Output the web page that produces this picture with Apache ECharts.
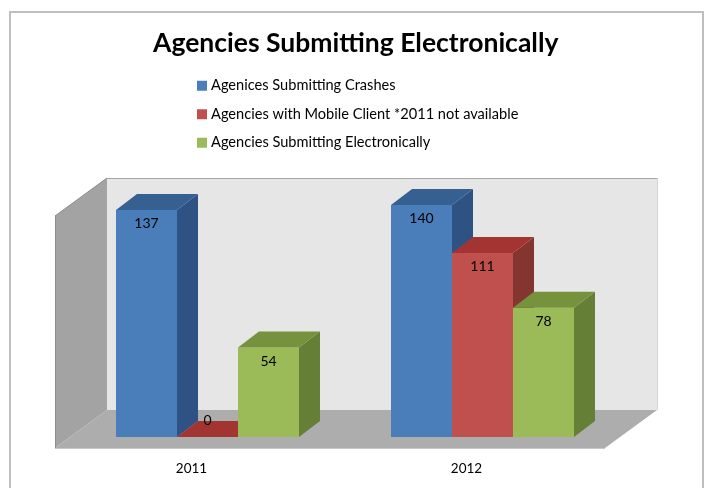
<!DOCTYPE html>
<html>
<head>
<meta charset="utf-8">
<style>html,body{margin:0;padding:0;background:#fff}#chart{width:705px;height:488px}</style>
<script src="https://cdn.jsdelivr.net/npm/echarts@6/dist/echarts.min.js"></script>
</head>
<body>
<div id="chart"></div>
<script>
const titleText = 'Agencies Submitting Electronically';
const years = ['2011', '2012'];
const crashNames = 'Agenices Submitting Crashes';
const mobileName = 'Agencies with Mobile Client *2011 not available';
const electronicName = 'Agencies Submitting Electronically';
const crashes = [137, 140];
const mobile = [0, 111];
const electronic = [54, 78];

// Projection of the depth axis: bar depth and the extra floor margin around the bars
const BAR_DX = 21, BAR_DY = 16;
const FLOOR_DX = 15, FLOOR_DY = 11;
const BACK_DX = 52, BACK_DY = 38;
const BAR_COUNT = 3;

const palette = [
  { front: '#4a7ebb', top: '#376092', side: '#2f5284' },
  { front: '#c0504d', top: '#a23531', side: '#853530' },
  { front: '#9bbb59', top: '#76923c', side: '#667f37' }
];

const poly = (points, fill) => ({ type: 'polygon', shape: { points }, style: { fill }, silent: true });

// Back wall, side wall and floor, worked out from the plot rectangle
function renderRoom(params, api) {
  const r = params.coordSys;
  const left = r.x - FLOOR_DX, right = r.x + r.width - FLOOR_DX;
  const bottom = r.y + r.height + FLOOR_DY, top = r.y + FLOOR_DY;
  const bx = BACK_DX, by = BACK_DY;
  return {
    type: 'group',
    children: [
      poly([[left + bx, top - by], [right + bx, top - by], [right + bx, bottom - by], [left + bx, bottom - by]], '#e6e6e6'),
      { type: 'line', shape: { x1: left + bx, y1: top - by + 0.5, x2: right + bx, y2: top - by + 0.5 }, style: { stroke: '#a6a6a6', lineWidth: 1 }, silent: true },
      { type: 'line', shape: { x1: right + bx + 0.5, y1: top - by, x2: right + bx + 0.5, y2: bottom - by }, style: { stroke: '#d4d4d4', lineWidth: 1 }, silent: true },
      poly([[left, top], [left + bx, top - by], [left + bx, bottom - by], [left, bottom]], '#a3a3a3'),
      poly([[left, bottom], [right, bottom], [right + bx, bottom - by], [left + bx, bottom - by]], '#adadad'),
      { type: 'line', shape: { x1: left, y1: top, x2: left + bx, y2: top - by }, style: { stroke: '#8c8c8c', lineWidth: 1 }, silent: true },
      { type: 'line', shape: { x1: left + 0.5, y1: top, x2: left + 0.5, y2: bottom }, style: { stroke: '#8c8c8c', lineWidth: 1 }, silent: true },
      { type: 'line', shape: { x1: left, y1: bottom + 0.5, x2: right, y2: bottom + 0.5 }, style: { stroke: '#c8c8c8', lineWidth: 1 }, silent: true }
    ]
  };
}

// One extruded bar of a cluster: front, top and right faces plus the value label
function barRenderer(seriesIndex) {
  const c = palette[seriesIndex];
  return function (params, api) {
    const value = api.value(1);
    const [cx, topY] = api.coord([api.value(0), value]);
    const [, baseY] = api.coord([api.value(0), 0]);
    const band = api.size([1, 0])[0];
    const w = band * 0.2218;
    const x0 = cx + (seriesIndex - BAR_COUNT / 2) * w;
    const x1 = x0 + w;
    const children = [];
    if (value > 0) {
      children.push(poly([[x1, topY], [x1 + BAR_DX, topY - BAR_DY], [x1 + BAR_DX, baseY - BAR_DY], [x1, baseY]], c.side));
      children.push(poly([[x0, topY], [x1, topY], [x1, baseY], [x0, baseY]], c.front));
    }
    children.push(poly([[x0, topY], [x1, topY], [x1 + BAR_DX, topY - BAR_DY], [x0 + BAR_DX, topY - BAR_DY]], c.top));
    children.push({
      type: 'text',
      silent: true,
      style: {
        x: (x0 + x1) / 2,
        y: value > 0 ? topY + 13.5 : topY - 17,
        text: String(value),
        fill: '#000',
        font: '14px Lato',
        align: 'center',
        verticalAlign: 'middle'
      }
    });
    return { type: 'group', children };
  };
}

const barSeries = [[crashNames, crashes], [mobileName, mobile], [electronicName, electronic]].map(([name, values], i) => ({
  type: 'custom',
  name,
  coordinateSystem: 'cartesian2d',
  itemStyle: { color: palette[i].front },
  renderItem: barRenderer(i),
  encode: { x: 0, y: 1 },
  data: years.map((y, k) => [k, values[k]]),
  z: 3 + i
}));

const chart = echarts.init(document.getElementById('chart'), null, { renderer: 'canvas' });
chart.setOption({
  animation: false,
  backgroundColor: '#fff',
  title: {
    text: titleText,
    left: 148,
    top: 25,
    textStyle: { fontFamily: 'Lato', fontSize: 26.5, fontWeight: 'bold', color: '#000' }
  },
  legend: {
    orient: 'vertical',
    left: 192,
    top: 72.5,
    itemWidth: 10,
    itemHeight: 10,
    itemGap: 12,
    icon: 'rect',
    selectedMode: false,
    textStyle: { fontFamily: 'Lato', fontSize: 14.6, color: '#000', height: 16.5, lineHeight: 16.5, padding: [0, 0, 0, -1] },
    data: [crashNames, mobileName, electronicName]
  },
  grid: { left: 70, top: 205, width: 550, height: 232 },
  xAxis: {
    type: 'category',
    data: years,
    axisLine: { show: false },
    axisTick: { show: false },
    axisLabel: { margin: 25, padding: [0, 32, 0, 0], fontFamily: 'Lato', fontSize: 13.5, color: '#000' }
  },
  yAxis: { type: 'value', min: 0, max: 140, show: false },
  series: [
    {
      type: 'custom',
      coordinateSystem: 'cartesian2d',
      renderItem: renderRoom,
      data: [[0, 0]],
      encode: { x: 0, y: 1 },
      z: 1,
      silent: true
    },
    ...barSeries
  ],
  graphic: [{
    type: 'polyline',
    silent: true,
    z: 100,
    shape: { points: [[10, 488], [10, 12], [703, 12], [703, 488]] },
    style: { fill: 'none', stroke: '#bfbfbf', lineWidth: 2 }
  }]
});
</script>
</body>
</html>
